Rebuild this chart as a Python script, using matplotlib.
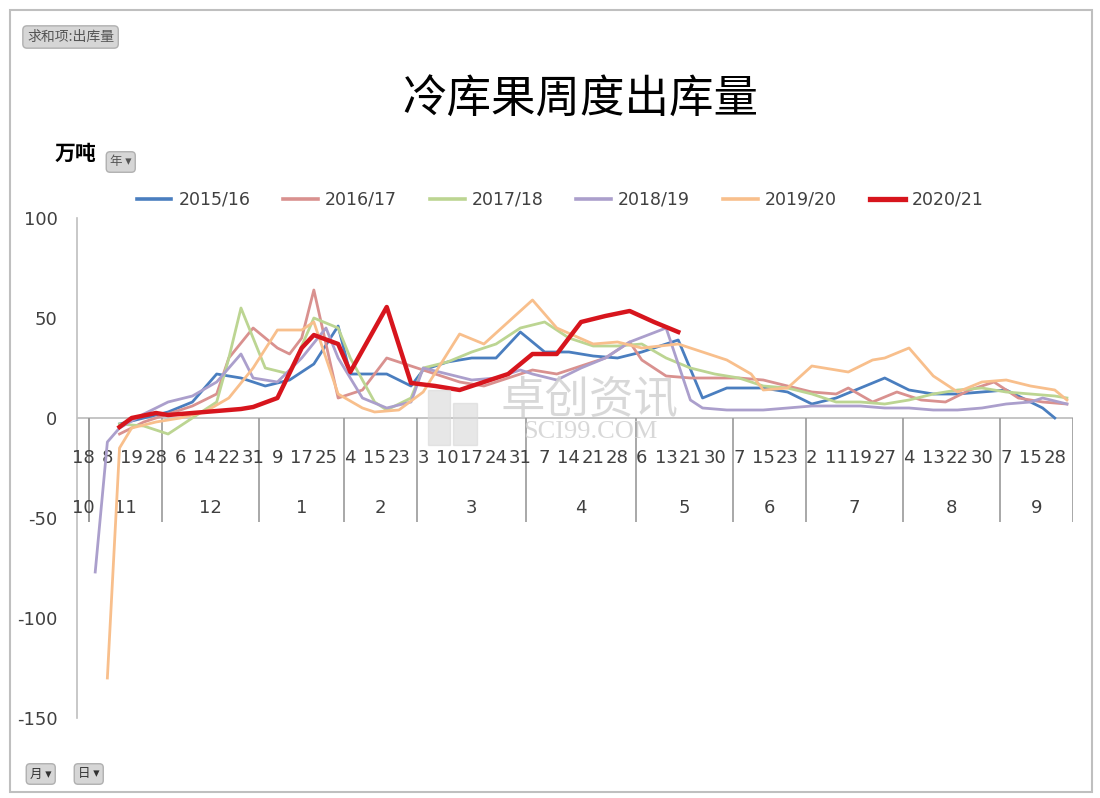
import numpy as np
import matplotlib
matplotlib.use("Agg")
import matplotlib.pyplot as plt
from matplotlib.lines import Line2D
from matplotlib.patches import Rectangle

plt.rcParams['font.family'] = ['DejaVu Sans', 'Noto Sans CJK SC']
plt.rcParams['axes.unicode_minus'] = False

N = None

# category axis: month -> days (every other category carries a visible label)
months = [10, 11, 12, 1, 2, 3, 4, 5, 6, 7, 8, 9]
month_days = [
    [18],
    [1, 8, 14, 19, 24, 28],
    [2, 6, 10, 14, 18, 22, 26, 31],
    [4, 9, 13, 17, 21, 25, 29],
    [4, 10, 15, 19, 23, 27],
    [3, 7, 10, 14, 17, 21, 24, 28, 31],
    [4, 7, 11, 14, 18, 21, 25, 28, 30],
    [6, 9, 13, 17, 21, 26, 30, 31],
    [7, 11, 15, 19, 23, 27],
    [2, 7, 11, 15, 19, 23, 27, 31],
    [4, 8, 13, 17, 22, 26, 30, 31],
    [7, 11, 15, 20, 28, 30],
]

series_names = ["2015/16", "2016/17", "2017/18", "2018/19", "2019/20", "2020/21"]

# weekly outflow (10k tonnes), blanks where a season has no value on that date
v_1516 = ([N] + [N, N, -3, N, 0, N] + [3, N, 8, N, 22, N, 20, N]
          + [16, N, 19, N, 27, N, 46] + [22, N, N, 22, N, 16]
          + [24, N, 28, N, 30, N, 30, N, 43] + [N, 33, N, 33, N, 31, N, 30, N]
          + [33, 35, N, 39, N, 10, N, 15] + [N, N, 15, N, 13, N]
          + [7, N, 10, N, 15, N, 20, N] + [14, N, 12, N, 12, N, 13, N]
          + [14, 11, N, 5, 0, N])
v_1617 = ([N] + [N, N, -8, N, -2, N] + [2, N, 6, N, 12, 30, N, 45]
          + [N, 35, 32, 40, 64, N, 10] + [N, 14, N, 30, N, 26]
          + [N, 22, N, 18, N, 16, N, 20, N] + [24, N, 22, N, 26, N, 30, N, 38]
          + [29, N, 21, N, 20, N, 20, N] + [20, N, 19, N, 16, N]
          + [13, N, 12, 15, N, 8, N, 13] + [N, 9, N, 8, N, 14, N, 18]
          + [N, 10, N, 8, N, 7])
v_1718 = ([N] + [N, N, -3, N, -4, N] + [-8, N, 0, N, 8, 30, 55, N]
          + [25, N, 22, N, 50, N, 45] + [30, N, 8, 4, N, 10]
          + [25, N, 28, N, 33, N, 37, N, 45] + [N, 48, N, 40, N, 36, N, 36, N]
          + [37, N, 30, N, 25, N, 22, N] + [20, N, 16, N, 15, N]
          + [12, N, 8, N, 8, N, 7, N] + [9, N, 12, N, 14, N, 15, N]
          + [13, N, 12, N, 11, 10])
v_1819 = ([N] + [-77, -12, -5, N, 2, N] + [8, N, 11, N, 18, N, 32, 20]
          + [N, 18, N, 30, N, 45, 30] + [N, 10, N, 5, N, 8]
          + [25, N, 22, N, 19, N, 20, N, 24] + [22, N, 19, N, 25, N, 30, N, 38]
          + [N, N, 45, N, 9, 5, N, 4] + [4, N, 4, N, 5, N]
          + [6, N, 6, N, 6, N, 5, N] + [5, N, 4, N, 4, N, 5, N]
          + [7, N, 8, 10, N, 7])
v_1920 = ([N] + [N, -130, -15, -5, N, -2] + [N, 0, N, 3, N, 10, N, 25]
          + [N, 44, N, 44, 48, N, 12] + [N, 5, 3, N, 4, N]
          + [13, N, N, 42, N, 37, N, N, N] + [59, N, 45, N, N, 37, N, 38, N]
          + [35, N, N, 37, N, N, N, 29] + [N, 22, 14, N, 15, N]
          + [26, N, N, 23, N, 29, 30, N] + [35, N, 21, N, 13, N, 18, N]
          + [19, N, 16, N, 14, 9])
v_2021 = ([N] + [N, N, -4.5, 0, N, 2.5] + [1.5, N, 2.5, N, 3.5, N, 4.5, 5.5]
          + [N, 10, N, 35, 41.5, N, 37] + [23, N, N, 55.5, N, 17.5]
          + [N, 16, N, 14, N, 18, N, 22, N] + [32, N, 32, N, 48, N, 51, N, 53.5]
          + [N, 48, N, 43, N, N, N, N] + [N] * 6 + [N] * 8 + [N] * 8 + [N] * 6)

colors = ["#4a7ebf", "#d9918f", "#bcd592", "#ab9fcc", "#f8bf8c", "#d7151d"]
widths = [2.0, 2.0, 2.0, 2.0, 2.0, 3.2]

fig = plt.figure(figsize=(11, 7.98), dpi=100)
fig.patches.append(Rectangle((10 / 1100, 6 / 798), 1082 / 1100, 782 / 798,
                             transform=fig.transFigure, fill=False,
                             edgecolor="#bfbfbf", linewidth=1.5))

ax = fig.add_axes([77 / 1100, 1 - 718 / 798, 996 / 1100, 500 / 798])
n_cat = sum(len(d) for d in month_days)
ax.set_xlim(0, n_cat)
ax.set_ylim(-150, 100)

for spine in ["top", "right", "bottom"]:
    ax.spines[spine].set_visible(False)
ax.spines["left"].set_color("#bfbfbf")
ax.spines["left"].set_linewidth(1.2)
ax.axhline(0, color="#c0c0c0", linewidth=1.3, zorder=1)

ax.set_xticks([])
ax.set_yticks([-150, -100, -50, 0, 50, 100])
ax.tick_params(axis="y", length=0, pad=14, labelsize=13, labelcolor="#404040")

# watermark
for x0, w, h in [(428, 22, 55), (453, 24, 42)]:
    fig.patches.append(Rectangle((x0 / 1100, 1 - 445 / 798), w / 1100, h / 798,
                                 transform=fig.transFigure, color="#d8d8d8", alpha=0.6))
fig.text(590 / 1100, 1 - 400 / 798, "卓创资讯", fontsize=32, color="#d2d2d2",
         ha="center", va="center", family=["Noto Sans CJK SC"], alpha=0.85)
fig.text(590 / 1100, 1 - 432 / 798, "SCI99.COM", fontsize=19, color="#d2d2d2",
         ha="center", va="center", family=["Liberation Serif"], alpha=0.85)

x = np.arange(n_cat) + 0.5
all_vals = [v_1516, v_1617, v_1718, v_1819, v_1920, v_2021]
handles = []
for k, (name, vals) in enumerate(zip(series_names, all_vals)):
    y = np.array([np.nan if v is None else v for v in vals], dtype=float)
    m = ~np.isnan(y)
    ax.plot(x[m], y[m], color=colors[k], linewidth=widths[k],
            solid_joinstyle="round", zorder=3 + k)
    handles.append(Line2D([], [], color=colors[k], linewidth=widths[k] + 0.6))

# two-level category labels
pos = 0
for mon, days in zip(months, month_days):
    for j, d in enumerate(days):
        if (pos + j) % 2 == 0:
            ax.text(pos + j + 0.5, -20, str(d), ha="center", va="center",
                    fontsize=13, color="#404040")
    ax.text(pos + len(days) / 2, -45, str(mon), ha="center", va="center",
            fontsize=13, color="#404040")
    pos += len(days)
    ax.vlines(pos, -52, 0, color="#9a9a9a", linewidth=1.2)
ax.vlines(1, -52, 0, color="#9a9a9a", linewidth=1.2)

fig.legend(handles, series_names, loc="center", bbox_to_anchor=(560 / 1100, 1 - 200 / 798),
           ncol=6, frameon=False, fontsize=12.5, handlelength=2.0,
           columnspacing=1.9, handletextpad=0.4, labelcolor="#404040")

fig.text(580 / 1100, 1 - 100 / 798, "冷库果周度出库量", fontsize=32,
         ha="center", va="center", family=["Noto Sans CJK SC"])

btn = dict(boxstyle="round,pad=0.3", facecolor="#d6d6d6", edgecolor="#b0b0b0")
fig.text(27 / 1100, 1 - 37 / 798, "求和项:出库量", fontsize=10, color="#555555",
         va="center", family=["Noto Sans CJK SC"], bbox=btn)
fig.text(55 / 1100, 1 - 153 / 798, "万吨", fontsize=15, fontweight="bold",
         va="center", family=["Noto Sans CJK SC"])
fig.text(110 / 1100, 1 - 162 / 798, "年 ▾", fontsize=9, color="#555555",
         va="center", family=["Noto Sans CJK SC", "DejaVu Sans"], bbox=btn)
fig.text(30 / 1100, 1 - 774 / 798, "月 ▾", fontsize=9, color="#333333",
         va="center", family=["Noto Sans CJK SC", "DejaVu Sans"], bbox=btn)
fig.text(78 / 1100, 1 - 774 / 798, "日 ▾", fontsize=9, color="#333333",
         va="center", family=["Noto Sans CJK SC", "DejaVu Sans"], bbox=btn)

fig.savefig("out.png", dpi=100)
